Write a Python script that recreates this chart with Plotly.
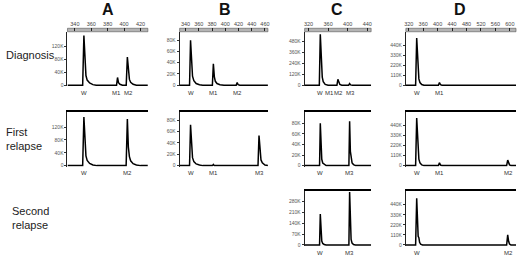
import plotly.graph_objects as go

W, H = 520, 258

# ---------------- data (bp on x, signal in thousands on y) ----------------
columns = ["A", "B", "C", "D"]
rows = ["Diagnosis", "First<br>relapse", "Second<br>relapse"]

top_ticks_A = [340, 360, 380, 400, 420]
top_ticks_B = [340, 360, 380, 400, 420, 440, 460]
top_ticks_C = [320, 360, 400, 440]
top_ticks_D = [320, 360, 400, 440, 480, 520, 560, 600]

yt_A = [0, 40, 80, 120]
yt_B = [0, 20, 40, 60, 80]
yt_C1 = [0, 120, 240, 360, 480]
yt_C2 = [0, 20, 40, 60, 80]
yt_C3 = [0, 70, 140, 210, 280]
yt_D = [0, 110, 220, 330, 440]

# Diagnosis
A1_x = [331, 349.5, 351, 352.2, 353.5, 355, 358, 362, 366, 390.8, 392, 393.2, 395, 398, 402.6, 404, 405.2, 406.5, 408, 411, 415, 429]
A1_y = [0, 0, 153, 60, 30, 16, 7, 2, 0, 0, 24, 8, 3, 0, 0, 87, 35, 18, 9, 3, 0, 0]
A1_lab = ["W", "M1", "M2"]
A1_pos = [351, 391, 405]

B1_x = [331, 346, 347.5, 349, 350.5, 352.5, 356, 361, 366, 380.5, 382, 383.5, 385, 387.5, 392, 398, 416.5, 418, 419.5, 422, 464.5]
B1_y = [0, 0, 80, 32, 16, 8, 3, 1, 0, 0, 38, 15, 7, 3, 1, 0, 0, 5, 1, 0, 0]
B1_lab = ["W", "M1", "M2"]
B1_pos = [347.5, 382, 418]

C1_x = [312, 342, 344, 346, 348, 350, 354, 360, 361, 362, 363.5, 366, 378, 380, 382, 384, 388, 402, 404, 406, 410, 448]
C1_y = [0, 0, 560, 200, 90, 40, 10, 0, 0, 8, 0, 0, 0, 65, 20, 8, 0, 0, 18, 4, 0, 0]
C1_lab = ["W", "M1", "M2", "M3"]
C1_pos = [343, 362, 382, 405]

D1_x = [312, 339, 342, 345, 348, 351, 356, 362, 402, 405, 408, 412, 617]
D1_y = [0, 0, 520, 180, 70, 30, 8, 0, 0, 30, 6, 0, 0]
D1_lab = ["W", "M1"]
D1_pos = [342, 405]

# First relapse
A2_x = [331, 349.5, 351, 352.2, 353.5, 355, 358, 362, 367, 402.5, 404, 405.2, 406.5, 408, 411, 415, 420, 429]
A2_y = [0, 0, 151, 60, 30, 16, 7, 2, 0, 0, 145, 58, 28, 15, 6, 2, 0, 0]
A2_lab = ["W", "M2"]
A2_pos = [351, 404]

B2_x = [331, 346, 347.5, 349, 350.5, 352.5, 356, 361, 366, 380.5, 382, 383.5, 449.5, 451, 452.5, 454, 456, 460, 464.5]
B2_y = [0, 0, 72, 30, 14, 7, 3, 1, 0, 0, 2, 0, 0, 53, 20, 10, 5, 1, 0]
B2_lab = ["W", "M1", "M3"]
B2_pos = [347.5, 382, 451]

C2_x = [312, 342.5, 344, 345.5, 347, 349, 352, 356, 402.5, 404, 405.5, 407, 409, 412, 416, 448]
C2_y = [0, 0, 80, 25, 12, 5, 2, 0, 0, 84, 27, 12, 5, 2, 0, 0]
C2_lab = ["W", "M3"]
C2_pos = [344, 404]

D2_x = [312, 339, 342, 345, 348, 351, 356, 362, 402, 405, 408, 412, 591, 594, 596.5, 599, 603, 617]
D2_y = [0, 0, 520, 180, 70, 30, 8, 0, 0, 30, 6, 0, 0, 60, 25, 8, 0, 0]
D2_lab = ["W", "M1", "M2"]
D2_pos = [342, 405, 595]

# Second relapse
C3_x = [312, 342.5, 344, 345.5, 347, 349, 352, 356, 402.5, 404, 405.5, 407, 409, 412, 416, 448]
C3_y = [0, 0, 197, 60, 25, 10, 3, 0, 0, 337, 90, 35, 12, 3, 0, 0]
C3_lab = ["W", "M3"]
C3_pos = [344, 404]

D3_x = [312, 339, 342, 344, 346, 348, 350, 353, 358, 591, 594, 596.5, 599, 603, 617]
D3_y = [0, 0, 510, 150, 95, 80, 30, 8, 0, 0, 110, 40, 10, 0, 0]
D3_lab = ["W", "M2"]
D3_pos = [342, 595]

# ---------------- layout geometry ----------------
col_range = {"A": [331, 429], "B": [331, 464.5], "C": [312, 448], "D": [312, 617]}
col_px = {"A": (66, 147), "B": (179, 268), "C": (305, 372), "D": (407, 518)}
row_px = {1: (32, 87), 2: (112.5, 168), 3: (192.5, 248)}
top_ticks = {"A": top_ticks_A, "B": top_ticks_B, "C": top_ticks_C, "D": top_ticks_D}

panels = [
    ("A", 1, A1_x, A1_y, yt_A, 165, A1_lab, A1_pos),
    ("B", 1, B1_x, B1_y, yt_B, 95, B1_lab, B1_pos),
    ("C", 1, C1_x, C1_y, yt_C1, 589, C1_lab, C1_pos),
    ("D", 1, D1_x, D1_y, yt_D, 590, D1_lab, D1_pos),
    ("A", 2, A2_x, A2_y, yt_A, 168, A2_lab, A2_pos),
    ("B", 2, B2_x, B2_y, yt_B, 95, B2_lab, B2_pos),
    ("C", 2, C2_x, C2_y, yt_C2, 102, C2_lab, C2_pos),
    ("D", 2, D2_x, D2_y, yt_D, 590, D2_lab, D2_pos),
    ("C", 3, C3_x, C3_y, yt_C3, 344, C3_lab, C3_pos),
    ("D", 3, D3_x, D3_y, yt_D, 590, D3_lab, D3_pos),
]

FONT = "Liberation Sans, Arial, sans-serif"


def px_x(p):
    return p / W


def px_y(p):
    return 1 - p / H


def ktxt(v):
    return "0" if v == 0 else f"{v}K"


fig = go.Figure()
layout = dict(
    width=W, height=H, margin=dict(l=0, r=0, t=0, b=0),
    paper_bgcolor="white", plot_bgcolor="rgba(0,0,0,0)",
    showlegend=False, font=dict(family=FONT, color="#222"),
)
annotations = []
shapes = []

for i, (col, row, xs, ys, yt, ymax, labs, poss) in enumerate(panels, start=1):
    sfx = "" if i == 1 else str(i)
    xa, ya = "x" + sfx, "y" + sfx
    fig.add_trace(go.Scatter(x=xs, y=ys, mode="lines", xaxis=xa, yaxis=ya,
                             line=dict(color="black", width=1.5), hoverinfo="skip"))
    x0, x1 = col_px[col]
    t, b = row_px[row]
    xaxis = dict(domain=[px_x(x0), px_x(x1)], range=col_range[col], anchor=ya,
                 side="top", showgrid=False, zeroline=False, fixedrange=True)
    if row == 1:
        xaxis.update(showline=False, ticks="outside", ticklen=3, tickwidth=1,
                     tickcolor="#222", tickvals=top_ticks[col],
                     ticktext=[str(v) for v in top_ticks[col]],
                     tickfont=dict(size=5.5, color="#444", family=FONT))
        shapes.append(dict(type="rect", xref=xa + " domain", yref="paper",
                           x0=0, x1=1, y0=px_y(t), y1=px_y(t - 3.5),
                           fillcolor="#b4b4b4", line=dict(color="#555", width=0.6),
                           layer="below"))
    else:
        xaxis.update(showline=True, linecolor="black", linewidth=1.5,
                     ticks="", showticklabels=False)
    yaxis = dict(domain=[px_y(b), px_y(t)], range=[-0.02 * ymax, ymax], anchor=xa,
                 showline=True, linecolor="#222", linewidth=1, ticks="outside",
                 ticklen=2, tickwidth=0.8, tickcolor="#333",
                 tickvals=yt, ticktext=[ktxt(v) for v in yt],
                 tickfont=dict(size=5, color="#555", family=FONT),
                 showgrid=False, zeroline=False, fixedrange=True)
    layout["xaxis" + sfx] = xaxis
    layout["yaxis" + sfx] = yaxis
    for lab, p in zip(labs, poss):
        annotations.append(dict(x=p, xref=xa, y=px_y(b + 6.5), yref="paper",
                                text=lab, showarrow=False, xanchor="center",
                                yanchor="middle",
                                font=dict(size=6, color="#333", family=FONT)))

# column headers
for col, cx in zip(columns, [107, 225, 338, 462]):
    annotations.append(dict(x=px_x(cx), y=1, xref="paper", yref="paper",
                            text=f"<b>{col}</b>", showarrow=False, borderpad=0,
                            xanchor="center", yanchor="top",
                            font=dict(size=16, color="#111", family=FONT)))

# row labels
for txt, lx, ly in zip(rows, [2, 2, 8], [55, 140, 220]):
    annotations.append(dict(x=px_x(lx), y=px_y(ly), xref="paper", yref="paper",
                            text=txt, showarrow=False, align="left",
                            xanchor="left", yanchor="middle",
                            font=dict(size=11, color="#222", family=FONT)))

layout["annotations"] = annotations
layout["shapes"] = shapes
fig.update_layout(**layout)
fig.write_html("out.html", config={"displayModeBar": False},
               post_script="document.body.style.margin='0';document.body.style.overflow='hidden';")
